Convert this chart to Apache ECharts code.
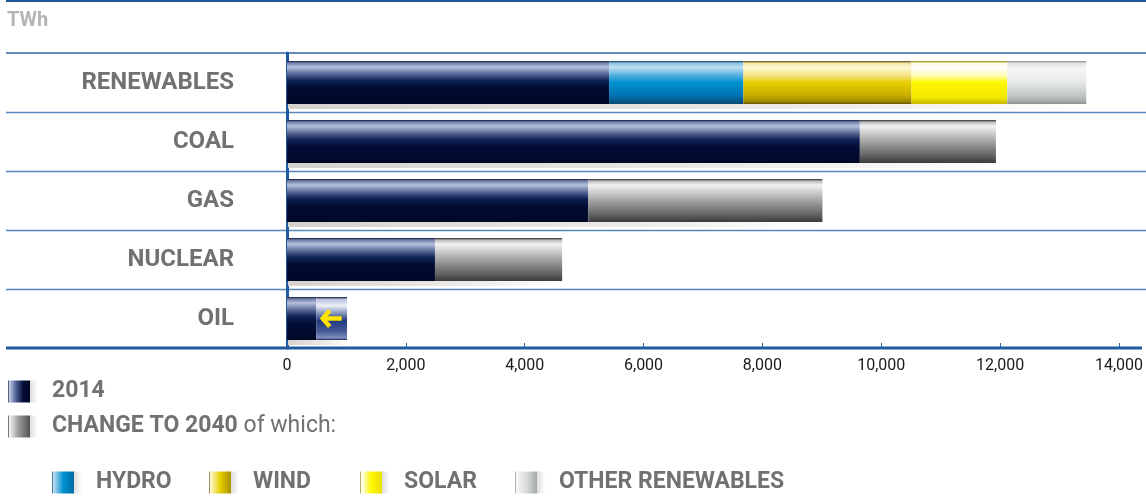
<!DOCTYPE html>
<html>
<head>
<meta charset="utf-8">
<script src="https://cdn.jsdelivr.net/npm/echarts@6/dist/echarts.min.js"></script>
<style>
  html, body { margin: 0; padding: 0; background: #fff; }
  #chart { width: 1146px; height: 497px; }
</style>
</head>
<body>
<div id="chart"></div>
<script>
// Power generation by source, TWh: 2014 level and change to 2040
const categories = ['RENEWABLES', 'COAL', 'GAS', 'NUCLEAR', 'OIL'];
const gen2014 = [5420, 9640, 5070, 2490, 1010];
const change2040 = [null, 2290, 3940, 2140, -515]; // renewables split below
const hydroChange = [2260, null, null, null, null];
const windChange = [2830, null, null, null, null];
const solarChange = [1610, null, null, null, null];
const otherChange = [1330, null, null, null, null];
const axisMin = 0, axisMax = 14000, axisStep = 2000;

const GRID = { left: 287, right: 25, top: 53, bottom: 149 };
const BAR_W = 43;
const FONT = 'Roboto';
const GREY_TEXT = '#717171';
const LINE_BLUE = '#2d62a6';

function vgrad(stops) {
  return new echarts.graphic.LinearGradient(0, 0, 0, 1,
    stops.map(s => ({ offset: s[0], color: s[1] })));
}
function hgrad(stops) {
  return new echarts.graphic.LinearGradient(0, 0, 1, 0,
    stops.map(s => ({ offset: s[0], color: s[1] })));
}

const navyFill = vgrad([[0, '#0c1434'], [0.04, '#6c7aa4'], [0.14, '#b6c1dc'], [0.3, '#5a6a98'], [0.45, '#0f2556'], [0.62, '#020c34'], [1, '#000828']]);
const greyFill = vgrad([[0, '#2c2c2c'], [0.05, '#bdbdbd'], [0.14, '#f2f2f2'], [0.5, '#a4a4a4'], [0.85, '#5e5e5e'], [1, '#3a3a3a']]);
const hydroFill = vgrad([[0, '#133c5c'], [0.05, '#8ec4e4'], [0.15, '#bfe0f2'], [0.35, '#4aaadc'], [0.5, '#0092d2'], [0.8, '#0072b0'], [1, '#0a4a74']]);
const windFill = vgrad([[0, '#4e4500'], [0.05, '#efe3a0'], [0.15, '#fff9d8'], [0.35, '#f4e27a'], [0.5, '#e6cf00'], [0.8, '#c8ae00'], [0.95, '#9c8600'], [1, '#5e5200']]);
const solarFill = vgrad([[0, '#8c8000'], [0.05, '#fffbe0'], [0.15, '#ffffff'], [0.35, '#fffcb0'], [0.5, '#fff700'], [0.85, '#f2e800'], [1, '#c4b800']]);
const otherFill = vgrad([[0, '#8a8a8a'], [0.05, '#e4e4e4'], [0.2, '#f6f6f6'], [0.5, '#e6e8e8'], [0.8, '#c2c6c6'], [0.95, '#a4a8a8'], [1, '#8a8a8a']]);
const declineFill = vgrad([[0, '#0a1038'], [0.05, '#b8c0dc'], [0.2, '#eef0f8'], [0.55, '#1e3a80'], [0.8, '#485a96'], [0.95, '#8090c0'], [1, '#1e2856']]);

// legend swatches: coloured block with a pale strip on the right
function swatch(stops) {
  const s = stops.map(p => [p[0] * 0.74, p[1]]);
  s.push([0.745, '#e2dedb'], [1, '#ffffff']);
  return hgrad(s);
}
const navySwatch = swatch([[0, '#1a2244'], [0.06, '#c4cce4'], [0.35, '#52639a'], [0.7, '#020c34'], [1, '#000828']]);
const greySwatch = swatch([[0, '#2c2c2c'], [0.06, '#f4f4f4'], [0.45, '#a0a0a0'], [1, '#505050']]);
const hydroSwatch = swatch([[0, '#0a3a60'], [0.06, '#bfe0f2'], [0.5, '#0092d2'], [1, '#0068a4']]);
const windSwatch = swatch([[0, '#5e5200'], [0.06, '#fff9d8'], [0.5, '#e6cf00'], [1, '#a89000']]);
const solarSwatch = swatch([[0, '#8c8000'], [0.06, '#ffffff'], [0.5, '#fff700'], [1, '#e8de00']]);
const otherSwatch = swatch([[0, '#8a8a8a'], [0.06, '#f6f6f6'], [0.5, '#dcdede'], [1, '#a4a8a8']]);

// segment values per category
const navyData = gen2014.map((v, i) => (change2040[i] !== null && change2040[i] < 0) ? v + change2040[i] : v);
const greyData = change2040.map(c => (c !== null && c > 0) ? c : '-');
const declineData = change2040.map(c => (c !== null && c < 0) ? -c : '-');
const dash = arr => arr.map(v => v === null ? '-' : v);
const totals = gen2014.map((v, i) => {
  const renew = [hydroChange, windChange, solarChange, otherChange].reduce((s, a) => s + (a[i] || 0), 0);
  const c = change2040[i] || 0;
  return Math.max(v, v + c + renew);
});

function seg(name, data, color) {
  return {
    name, type: 'bar', stack: 'gen', barWidth: BAR_W, data,
    itemStyle: { color }, emphasis: { disabled: true }, z: 3
  };
}

const chart = echarts.init(document.getElementById('chart'), null, { renderer: 'canvas' });

const legendText = {
  fontFamily: FONT, fontSize: 23, fontWeight: 'bold', color: GREY_TEXT,
  padding: [0, 0, 0, 9],
  rich: { n: { fontFamily: FONT, fontSize: 23, fontWeight: 'normal', color: GREY_TEXT } }
};
const legendBase = {
  icon: 'rect', itemWidth: 30, itemHeight: 22, selectedMode: false,
  textStyle: legendText, padding: 0
};
const legendItem = (left, top, name, color, extra) =>
  Object.assign({}, legendBase, { left, top, data: [{ name, itemStyle: { color } }] }, extra || {});

const option = {
  animation: false,
  title: {
    text: 'TWh', left: 7, top: 11, padding: 0,
    textStyle: { fontFamily: FONT, fontSize: 20, fontWeight: 'bold', color: '#b4b4b4' }
  },
  grid: GRID,
  xAxis: {
    type: 'value', min: axisMin, max: axisMax, interval: axisStep,
    axisLine: { show: false },
    axisTick: { show: true, inside: true, length: 5, lineStyle: { color: LINE_BLUE, width: 1 } },
    splitLine: { show: false },
    axisLabel: {
      fontFamily: FONT, fontSize: 16, color: '#1a1a1a', margin: 10,
      formatter: v => v.toLocaleString('en-US')
    }
  },
  yAxis: {
    type: 'category', data: categories, inverse: true,
    axisLine: { show: true, lineStyle: { color: '#1f5aa0', width: 3 } },
    axisTick: { show: false },
    axisLabel: {
      fontFamily: FONT, fontSize: 24, fontWeight: 'bold', color: GREY_TEXT, margin: 53
    }
  },
  legend: [
    legendItem(8, 380, '2014', navySwatch),
    legendItem(8, 415, 'CHANGE TO 2040', greySwatch, { formatter: name => name + ' {n|of which:}' }),
    legendItem(52, 471, 'HYDRO', hydroSwatch),
    legendItem(209, 471, 'WIND', windSwatch),
    legendItem(360, 471, 'SOLAR', solarSwatch),
    legendItem(515, 471, 'OTHER RENEWABLES', otherSwatch)
  ],
  series: [
    // pale strip beneath each bar
    {
      name: 'strip', type: 'custom', z: 1, silent: true,
      data: totals.map((t, i) => [t, i]),
      encode: { x: 0, y: 1 },
      renderItem: (params, api) => {
        const idx = api.value(1);
        const a = api.coord([0, idx]);
        const b = api.coord([api.value(0), idx]);
        return {
          type: 'rect',
          shape: { x: a[0] + 1, y: a[1] + BAR_W / 2, width: b[0] - a[0], height: 5 },
          style: { fill: hgrad([[0, '#d5d1cd'], [0.6, '#ebe8e6'], [1, '#ffffff']]) }
        };
      }
    },
    seg('2014', navyData, navyFill),
    seg('CHANGE TO 2040', greyData, greyFill),
    seg('HYDRO', dash(hydroChange), hydroFill),
    seg('WIND', dash(windChange), windFill),
    seg('SOLAR', dash(solarChange), solarFill),
    seg('OTHER RENEWABLES', dash(otherChange), otherFill),
    seg('decline', declineData, declineFill),
    // arrow marking a decline
    {
      name: 'arrow', type: 'custom', z: 5, silent: true,
      data: declineData.map((d, i) => d === '-' ? null : [navyData[i] + d / 2, i]).filter(Boolean),
      encode: { x: 0, y: 1 },
      renderItem: (params, api) => {
        const p = api.coord([api.value(0), api.value(1)]);
        const cx = p[0], cy = p[1];
        const st = { stroke: '#ffe200', lineWidth: 4.5, fill: null, lineJoin: 'miter', lineCap: 'butt' };
        return {
          type: 'group',
          children: [
            { type: 'polyline', shape: { points: [[cx - 2, cy - 8], [cx - 9, cy], [cx - 2, cy + 8]] }, style: st },
            { type: 'line', shape: { x1: cx - 8, y1: cy, x2: cx + 10, y2: cy }, style: st }
          ]
        };
      }
    }
  ]
};

chart.setOption(option);

// rules: top border, category separators and base line
const H = 497, W = 1146;
const plotH = H - GRID.top - GRID.bottom;
const band = plotH / categories.length;
const lines = [
  { type: 'line', shape: { x1: 6, y1: 1, x2: W, y2: 1 }, style: { stroke: '#1f5596', lineWidth: 2 } },
  { type: 'line', shape: { x1: 6, y1: GRID.top, x2: W, y2: GRID.top }, style: { stroke: LINE_BLUE, lineWidth: 1.5 } },
  { type: 'line', shape: { x1: 6, y1: H - GRID.bottom, x2: W - 4, y2: H - GRID.bottom }, style: { stroke: '#1f5aa0', lineWidth: 3 } }
];
for (let i = 1; i < categories.length; i++) {
  const y = Math.round(GRID.top + band * i) + 0.5;
  lines.push({ type: 'line', shape: { x1: 6, y1: y, x2: W, y2: y }, style: { stroke: '#5a86bc', lineWidth: 1.5 } });
}
chart.setOption({ graphic: lines.map(g => Object.assign({ silent: true, z: 0 }, g)) });
</script>
</body>
</html>
